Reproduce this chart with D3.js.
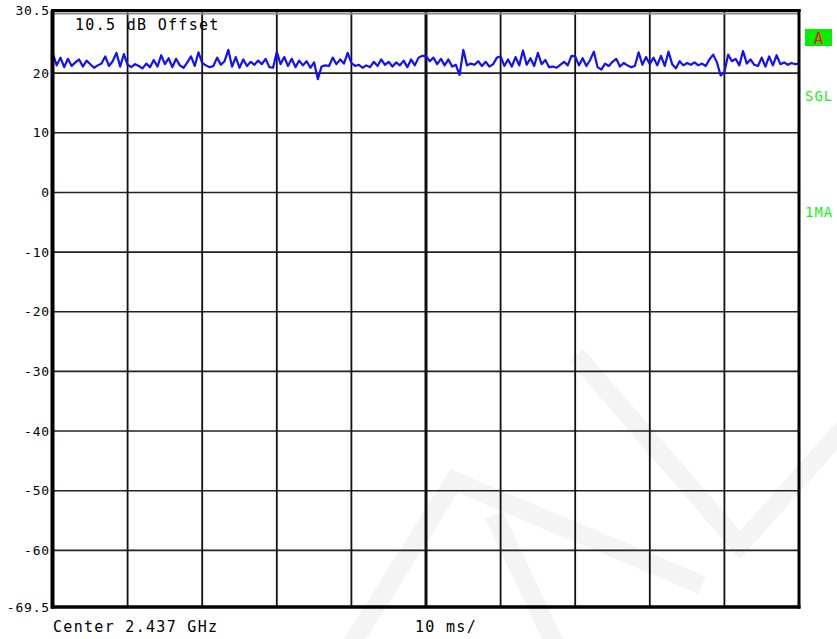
<!DOCTYPE html>
<html>
<head>
<meta charset="utf-8">
<script src="https://cdn.jsdelivr.net/npm/d3@7"></script>
<style>
    body { margin: 0; background: #fff; }
    svg { display: block; }
    .lbl { font-family: "DejaVu Sans Mono", monospace; fill: #000; }
</style>
</head>
<body>
<svg id="chart" width="837" height="639"></svg>
<script>
// trace values (dB), one per 0.5 ms, 0..100 ms
const traceDiv1 = [23.2, 21.3, 22.6, 21.0, 22.4, 21.2, 21.8, 22.3, 21.1, 22.1, 21.5, 20.9, 21.3, 21.6, 22.8, 21.2, 22.0, 23.4, 21.1, 23.2];
const traceDiv2 = [21.4, 21.0, 21.5, 21.2, 20.8, 21.6, 21.0, 22.2, 21.1, 23.0, 21.5, 22.5, 21.0, 22.4, 21.3, 20.9, 21.8, 22.8, 21.2, 23.5];
const traceDiv3 = [21.7, 21.3, 21.0, 21.2, 22.6, 21.4, 22.0, 23.9, 21.1, 22.7, 20.9, 22.3, 21.2, 21.9, 21.4, 22.1, 21.5, 22.4, 21.0, 20.9];
const traceDiv4 = [23.6, 21.5, 22.7, 21.2, 22.4, 21.0, 22.1, 21.3, 22.0, 20.9, 21.8, 19.0, 21.1, 21.3, 21.2, 22.6, 21.5, 22.3, 21.6, 23.4];
const traceDiv5 = [21.7, 21.2, 21.4, 20.9, 21.3, 21.0, 21.9, 21.2, 22.3, 21.4, 21.9, 21.1, 21.8, 21.3, 22.1, 21.0, 22.3, 21.3, 22.6, 22.9];
const traceDiv6 = [22.9, 22.0, 22.6, 21.5, 22.4, 21.3, 22.3, 21.1, 21.4, 19.7, 23.9, 21.3, 21.6, 21.4, 22.0, 21.2, 21.9, 21.1, 21.5, 22.6];
const traceDiv7 = [22.8, 21.2, 22.3, 21.1, 22.7, 21.3, 23.8, 21.4, 22.5, 21.2, 23.4, 21.5, 22.2, 21.0, 21.1, 20.9, 21.4, 21.9, 21.3, 22.9];
const traceDiv8 = [22.8, 21.3, 22.5, 21.2, 22.2, 23.6, 21.0, 20.6, 21.6, 21.2, 21.9, 22.4, 21.1, 21.7, 21.3, 21.0, 21.2, 23.5, 21.4, 22.7];
const traceDiv9 = [21.5, 22.6, 21.3, 22.9, 21.2, 23.6, 21.5, 20.8, 22.0, 21.3, 21.7, 21.4, 21.8, 21.3, 21.6, 21.2, 22.3, 23.1, 21.8, 19.6];
const traceDiv10 = [20.2, 23.1, 22.0, 22.4, 21.3, 23.7, 21.6, 22.3, 21.4, 21.2, 22.6, 21.1, 22.8, 21.3, 23.0, 21.5, 21.8, 21.4, 21.7, 21.5, 21.6];

const yTicks = [30.5, 20, 10, 0, -10, -20, -30, -40, -50, -60, -69.5];
const yTickLabels = ["30.5", "20", "10", "0", "-10", "-20", "-30", "-40", "-50", "-60", "-69.5"];
const xTicks = [0, 10, 20, 30, 40, 50, 60, 70, 80, 90, 100];
const sideLabels = ["SGL", "1MA"];

const traceValues = [].concat(traceDiv1, traceDiv2, traceDiv3, traceDiv4, traceDiv5,
    traceDiv6, traceDiv7, traceDiv8, traceDiv9, traceDiv10);
const traceData = traceValues.map(function (v, i) { return { t: i * 0.5, db: v }; });

const svg = d3.select("#chart");
const plotLeft = 53, plotRight = 799, plotTop = 10.5, plotBottom = 607;

const xScale = d3.scaleLinear().domain([0, 100]).range([plotLeft, plotRight]);
const yScale = d3.scaleLinear().domain([-69.5, 30.5]).range([plotBottom, plotTop]);

// faint watermark
const mark = svg.append("g").attr("fill", "none").attr("stroke", "#000")
    .attr("stroke-opacity", 0.045).attr("stroke-width", 19).attr("stroke-linejoin", "miter");
mark.append("polyline").attr("points", "345,655 454,481 702,585");
mark.append("polyline").attr("points", "494,515 560,655");
mark.append("polyline").attr("points", "576,355 740,545 860,410");

// horizontal grid
svg.append("g")
    .selectAll("line")
    .data(yTicks.slice(1, -1))
    .join("line")
    .attr("x1", plotLeft).attr("x2", plotRight)
    .attr("y1", d => yScale(d)).attr("y2", d => yScale(d))
    .attr("stroke", "#222")
    .attr("stroke-width", 1.6);

// vertical grid
svg.append("g")
    .selectAll("line")
    .data(xTicks.slice(1, -1))
    .join("line")
    .attr("x1", d => xScale(d)).attr("x2", d => xScale(d))
    .attr("y1", plotTop).attr("y2", plotBottom)
    .attr("stroke", "#111")
    .attr("stroke-width", d => d == 50 ? 3 : 1.8);

// trace
svg.append("path")
    .datum(traceData)
    .attr("fill", "none")
    .attr("stroke", "#1010ff")
    .attr("stroke-width", 2.2)
    .attr("stroke-linejoin", "round")
    .attr("d", d3.line()
        .x(d => xScale(d.t))
        .y(d => yScale(d.db)));

// frame
svg.append("line").attr("x1", plotLeft).attr("x2", plotRight).attr("y1", 13.5).attr("y2", 13.5)
    .attr("stroke", "#8a8a8a").attr("stroke-width", 2);
svg.append("line").attr("x1", plotLeft - 2).attr("x2", plotRight + 1.5).attr("y1", plotTop).attr("y2", plotTop)
    .attr("stroke", "#000").attr("stroke-width", 3);
svg.append("line").attr("x1", plotLeft - 0.5).attr("x2", plotLeft - 0.5).attr("y1", plotTop).attr("y2", plotBottom + 1.5)
    .attr("stroke", "#000").attr("stroke-width", 4);
svg.append("line").attr("x1", plotRight).attr("x2", plotRight).attr("y1", plotTop - 1.5).attr("y2", plotBottom + 1.5)
    .attr("stroke", "#000").attr("stroke-width", 3);
svg.append("line").attr("x1", plotLeft - 2).attr("x2", plotRight + 1.5).attr("y1", plotBottom).attr("y2", plotBottom)
    .attr("stroke", "#000").attr("stroke-width", 3.5);

// y labels
svg.append("g")
    .selectAll("text")
    .data(yTicks)
    .join("text")
    .attr("class", "lbl")
    .attr("x", 50)
    .attr("y", d => yScale(d) + 4.5)
    .attr("text-anchor", "end")
    .style("font-size", "13px")
    .style("letter-spacing", "0.8px")
    .text((d, i) => yTickLabels[i]);

// annotations
svg.append("text").attr("class", "lbl")
    .attr("x", 75).attr("y", 29.5)
    .style("font-size", "15px").style("letter-spacing", "1.3px")
    .text("10.5 dB Offset");
svg.append("text").attr("class", "lbl")
    .attr("x", 53).attr("y", 631.5)
    .style("font-size", "15px").style("letter-spacing", "1.3px")
    .text("Center 2.437 GHz");
svg.append("text").attr("class", "lbl")
    .attr("x", 415).attr("y", 631.5)
    .style("font-size", "15px").style("letter-spacing", "1.3px")
    .text("10 ms/");

// right side status
svg.append("rect").attr("x", 805).attr("y", 29).attr("width", 27).attr("height", 17)
    .attr("fill", "#00f000");
svg.append("text").attr("class", "lbl")
    .attr("x", 818.5).attr("y", 43.5)
    .attr("text-anchor", "middle")
    .style("font-size", "16px")
    .style("fill", "#ff1010")
    .text("A");
svg.append("g")
    .selectAll("text")
    .data(sideLabels)
    .join("text")
    .attr("class", "lbl")
    .attr("x", 805)
    .attr("y", (d, i) => i == 0 ? 101 : 217)
    .style("font-size", "14px")
    .style("letter-spacing", "1px")
    .style("fill", "#22ee22")
    .text(d => d);
</script>
</body>
</html>
